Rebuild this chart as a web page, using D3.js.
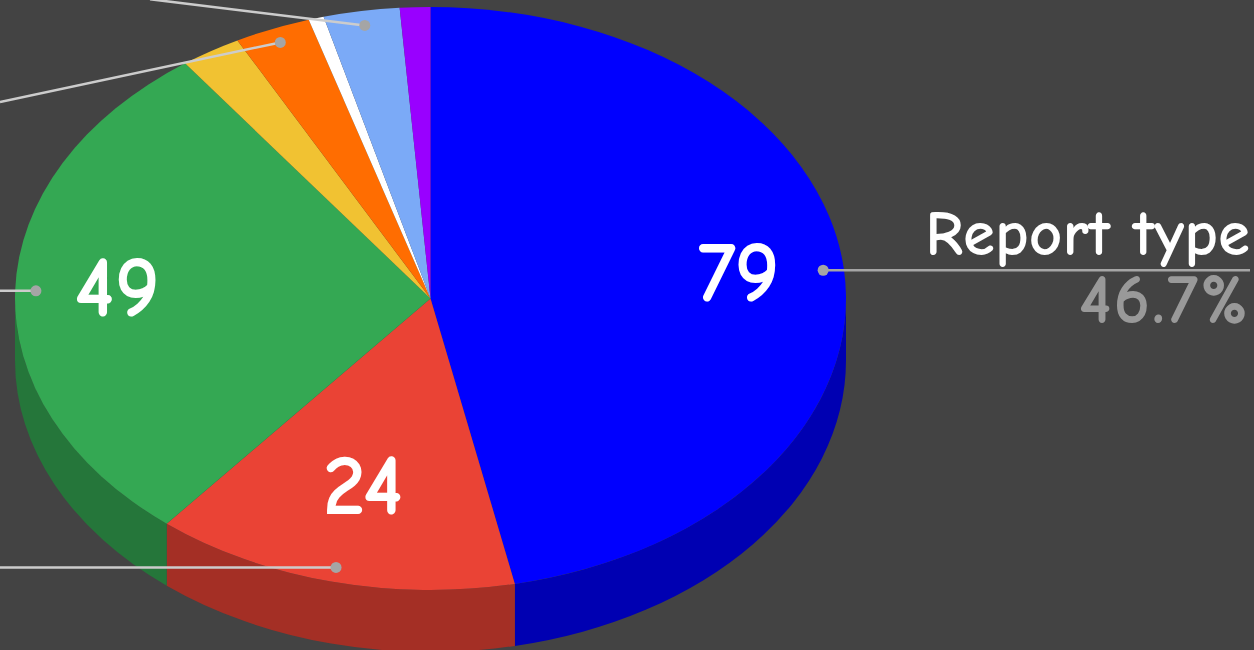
<!DOCTYPE html>
<html>
<head>
<meta charset="utf-8">
<script src="https://cdn.jsdelivr.net/npm/d3@7"></script>
<style>
  html, body { margin:0; padding:0; background:#434343; overflow:hidden; }
  text { font-family:"Comic Sans MS", "Comic Neue", cursive, Lato, sans-serif; }
</style>
</head>
<body>
<div id="plot"></div>
<script>
// slices, clockwise from 12 o'clock
var sliceValues = [79, 24, 49, 4, 5, 1, 5, 2];
var sliceColors = ['#0000ff', '#ea4335', '#34a853', '#f1c232', '#ff6d01', '#ffffff', '#7baaf7', '#9900ff'];
var wallColors  = ['#0000b2', '#a42f25', '#25763a', '#a98823', '#b34c01', '#b2b2b2', '#5677ad', '#6b00b2'];
var calloutName = 'Report type';
var calloutPercent = '46.7%';

var width = 1254, height = 650;
var cx = 430.5, cy = 298.5, rx = 415.5, ry = 291.5, depth = 62;

var svg = d3.select('#plot')
    .append('svg')
    .attr('width', width)
    .attr('height', height)
    .style('display', 'block');

svg.append('rect').attr('width', width).attr('height', height).attr('fill', '#434343');

var pie = d3.pie().sort(null);
var slices = pie(sliceValues);

// point on the top ellipse, angle clockwise from top
function onEllipse(a, f) {
    return [cx + Math.sin(a) * rx * f, cy - Math.cos(a) * ry * f];
}

// the side wall only shows on the lower half of the disc
var wallData = slices.map(function(d, i) {
    return {i:i, a0:Math.max(d.startAngle, Math.PI/2), a1:Math.min(d.endAngle, Math.PI*1.5)};
}).filter(function(d) { return d.a1 > d.a0; });

svg.append('g').selectAll('path')
    .data(wallData)
    .enter()
    .append('path')
    .attr('fill', function(d) { return wallColors[d.i]; })
    .attr('d', function(d) {
        var p0 = onEllipse(d.a0, 1), p1 = onEllipse(d.a1, 1);
        return 'M' + p0[0] + ',' + p0[1]
            + 'A' + rx + ',' + ry + ' 0 0 1 ' + p1[0] + ',' + p1[1]
            + 'L' + p1[0] + ',' + (p1[1] + depth)
            + 'A' + rx + ',' + ry + ' 0 0 0 ' + p0[0] + ',' + (p0[1] + depth)
            + 'Z';
    });

// top face: a plain d3 arc squashed into an ellipse
var arc = d3.arc().innerRadius(0).outerRadius(rx);

svg.append('g')
    .attr('transform', 'translate(' + cx + ',' + cy + ') scale(1,' + (ry / rx) + ')')
    .selectAll('path')
    .data(slices)
    .enter()
    .append('path')
    .attr('d', arc)
    .attr('fill', function(d, i) { return sliceColors[i]; });

function midAngle(d) { return (d.startAngle + d.endAngle) / 2; }

// leader lines, each runs from the slice dot off to its label
var leaders = [
    {i:0, x2:width - 4, slope:0, color:'#a5a5a5'},
    {i:1, x2:0, slope:0, color:'#cccccc'},
    {i:2, x2:0, slope:0, color:'#cccccc'},
    {i:4, x2:0, slope:-0.213, color:'#cccccc'},
    {i:6, x2:150, slope:0.122, color:'#cccccc'}
];

var dotR = 0.95;

svg.append('g').selectAll('line')
    .data(leaders)
    .enter()
    .append('line')
    .attr('x1', function(d) { return onEllipse(midAngle(slices[d.i]), dotR)[0]; })
    .attr('y1', function(d) { return onEllipse(midAngle(slices[d.i]), dotR)[1]; })
    .attr('x2', function(d) { return d.x2; })
    .attr('y2', function(d) {
        var p = onEllipse(midAngle(slices[d.i]), dotR);
        return p[1] + (d.x2 - p[0]) * d.slope;
    })
    .attr('stroke', function(d) { return d.color; })
    .attr('stroke-width', 2.5);

svg.append('g').selectAll('circle')
    .data(leaders)
    .enter()
    .append('circle')
    .attr('cx', function(d) { return onEllipse(midAngle(slices[d.i]), dotR)[0]; })
    .attr('cy', function(d) { return onEllipse(midAngle(slices[d.i]), dotR)[1]; })
    .attr('r', 5.5)
    .attr('fill', '#a5a5a5');

// value labels on the three big slices
svg.append('g').selectAll('text')
    .data(slices.slice(0, 3))
    .enter()
    .append('text')
    .attr('x', function(d, i) { return onEllipse(midAngle(d), 0.75)[0] + (i == 1 ? 7 : -2); })
    .attr('y', function(d) { return onEllipse(midAngle(d), 0.68)[1]; })
    .attr('dy', '0.27em')
    .attr('text-anchor', 'middle')
    .attr('font-size', 86)
    .attr('font-weight', 'bold')
    .attr('fill', '#ffffff')
    .text(function(d) { return d.value; });

svg.append('text')
    .attr('x', 1250).attr('y', 255)
    .attr('text-anchor', 'end')
    .attr('font-size', 65)
    .attr('font-weight', 'bold')
    .attr('fill', '#ffffff')
    .text(calloutName);

svg.append('text')
    .attr('x', 1250).attr('y', 323)
    .attr('text-anchor', 'end')
    .attr('font-size', 70)
    .attr('font-weight', 'bold')
    .attr('letter-spacing', 2)
    .attr('fill', '#999999')
    .text(calloutPercent);
</script>
</body>
</html>
